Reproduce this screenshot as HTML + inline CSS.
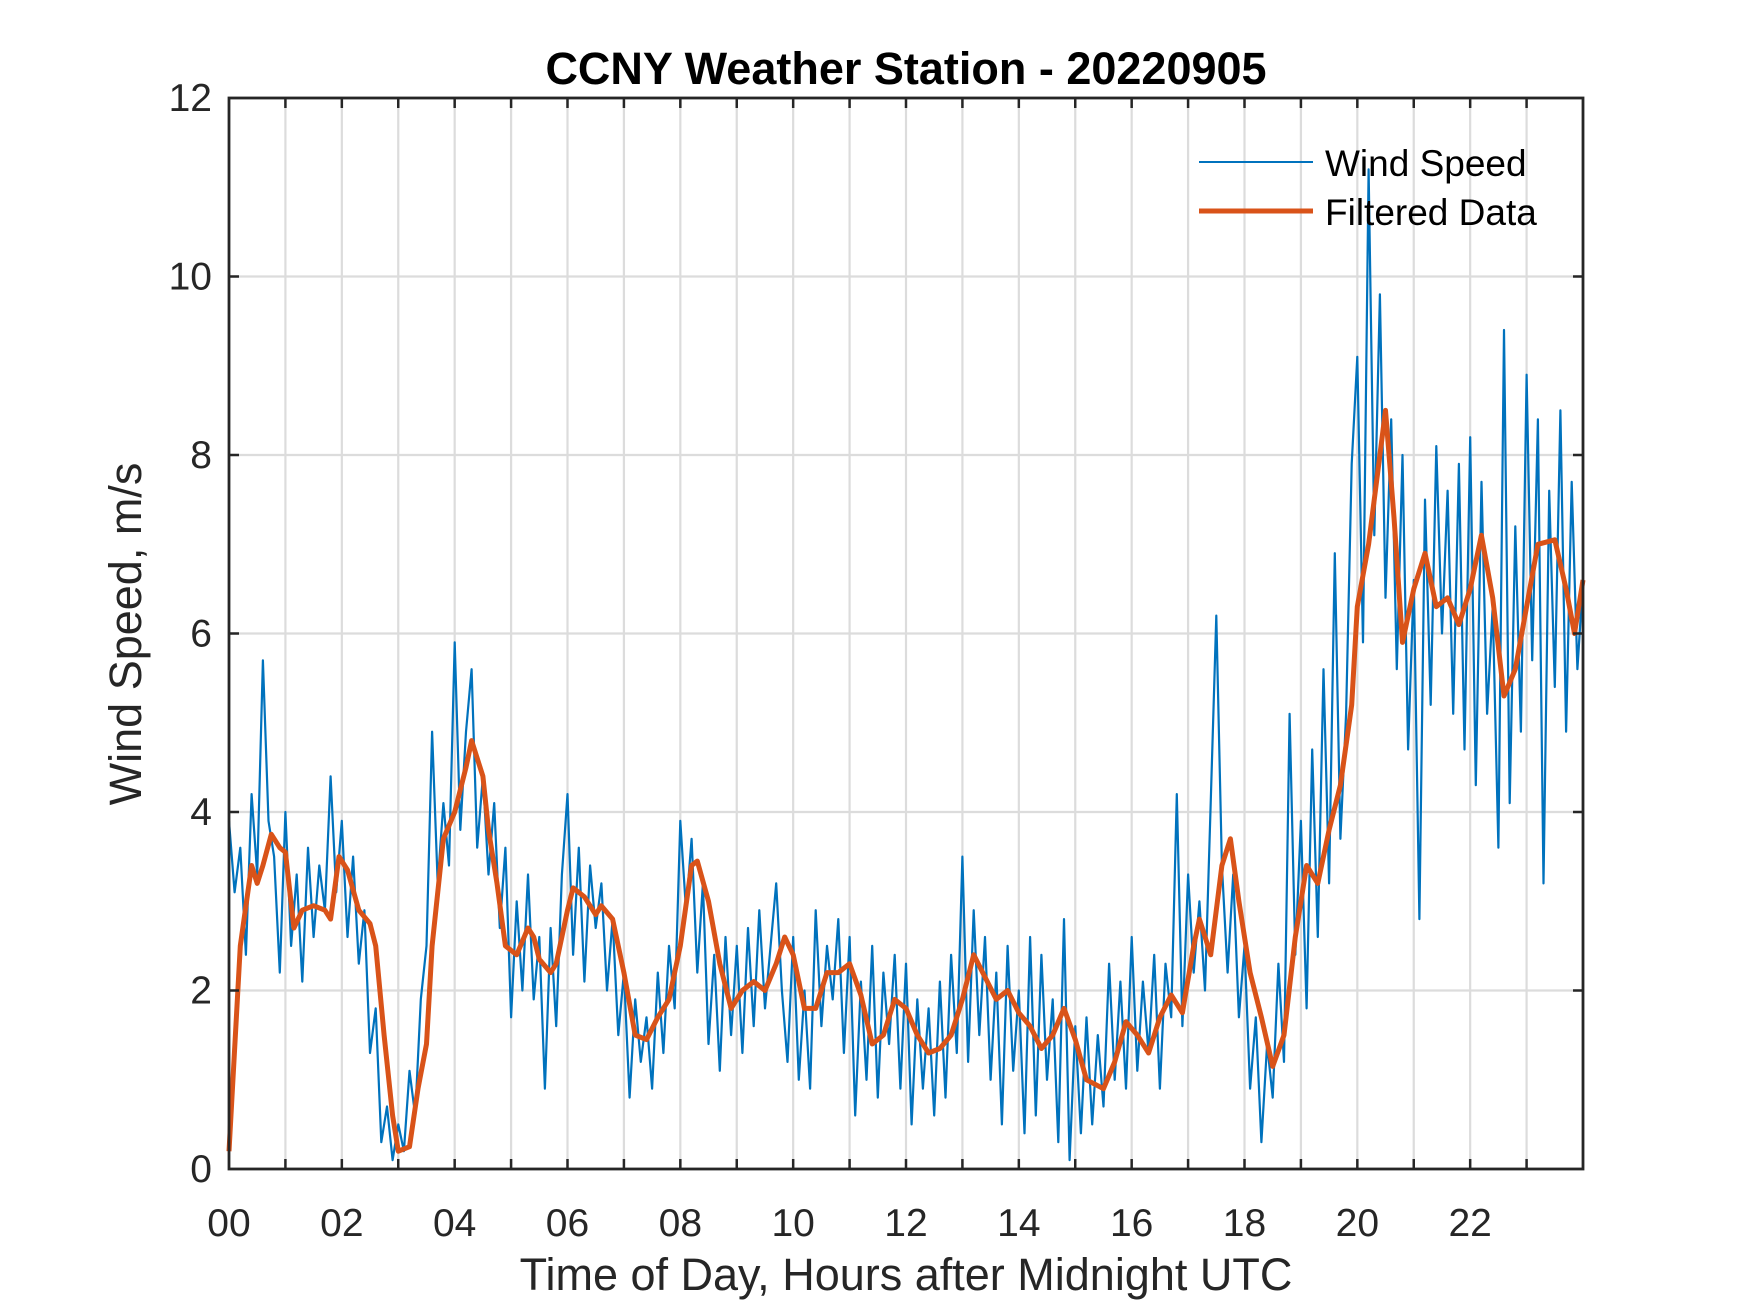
<!DOCTYPE html>
<html><head><meta charset="utf-8"><style>
html,body{margin:0;padding:0;background:#fff;}
svg{display:block;font-family:"Liberation Sans",Arial,sans-serif;}
</style></head><body>
<svg id="chart" width="1750" height="1313" viewBox="0 0 1750 1313" xmlns="http://www.w3.org/2000/svg">
<rect width="1750" height="1313" fill="#fff"/>
<g id="grid"></g>
<g id="series"></g>
<g id="axes"></g>
<text x="906" y="84" text-anchor="middle" font-size="45" font-weight="bold" fill="#000">CCNY Weather Station - 20220905</text>
<text x="906" y="1290" text-anchor="middle" font-size="45" fill="#262626">Time of Day, Hours after Midnight UTC</text>
<text transform="translate(141,634) rotate(-90)" text-anchor="middle" font-size="45" fill="#262626">Wind Speed, m/s</text>
<g id="legend">
<line x1="1199" y1="162" x2="1313" y2="162" stroke="#0072BD" stroke-width="2"/>
<text x="1325" y="176" font-size="37" fill="#000">Wind Speed</text>
<line x1="1199" y1="211" x2="1313" y2="211" stroke="#D95319" stroke-width="5"/>
<text x="1325" y="225" font-size="37" fill="#000">Filtered Data</text>
</g>
</svg>
<script>
const rawValues = [
3.9,3.1,3.6,2.4,4.2,3.3,5.7,3.9,3.5,2.2,
4.0,2.5,3.3,2.1,3.6,2.6,3.4,2.9,4.4,3.1,
3.9,2.6,3.5,2.3,2.9,1.3,1.8,0.3,0.7,0.1,
0.5,0.2,1.1,0.6,1.9,2.5,4.9,3.2,4.1,3.4,
5.9,3.8,4.9,5.6,3.6,4.4,3.3,4.1,2.7,3.6,
1.7,3.0,2.0,3.3,1.9,2.6,0.9,2.7,1.6,3.3,
4.2,2.4,3.6,2.1,3.4,2.7,3.2,2.0,2.8,1.5,
2.2,0.8,1.9,1.2,1.7,0.9,2.2,1.3,2.5,1.8,
3.9,2.9,3.7,2.2,3.2,1.4,2.4,1.1,2.6,1.5,
2.5,1.3,2.7,1.6,2.9,1.8,2.5,3.2,2.0,1.2,
2.6,1.0,2.0,0.9,2.9,1.6,2.5,1.9,2.8,1.3,
2.6,0.6,2.1,1.0,2.5,0.8,2.2,1.4,2.4,0.9,
2.3,0.5,1.9,0.9,1.8,0.6,2.1,0.8,2.4,1.3,
3.5,1.2,2.9,1.5,2.6,1.0,2.2,0.5,2.5,1.1,
2.0,0.4,2.6,0.6,2.4,1.0,1.9,0.3,2.8,0.1,
1.6,0.4,1.7,0.5,1.5,0.7,2.3,1.0,2.1,0.9,
2.6,1.1,2.1,1.3,2.4,0.9,2.3,1.7,4.2,1.6,
3.3,2.2,3.0,2.0,4.1,6.2,3.4,2.2,3.3,1.7,
2.5,0.9,1.7,0.3,1.4,0.8,2.3,1.2,5.1,2.4,
3.9,1.8,4.7,2.6,5.6,3.2,6.9,3.7,5.1,7.9,
9.1,5.9,11.2,7.1,9.8,6.4,8.4,5.6,8.0,4.7,
6.6,2.8,7.5,5.2,8.1,6.0,7.6,5.1,7.9,4.7,
8.2,4.3,7.7,5.1,6.3,3.6,9.4,4.1,7.2,4.9,
8.9,5.7,8.4,3.2,7.6,5.4,8.5,4.9,7.7,5.6,
6.6];
const filtHours = [0,0.2,0.4,0.5,0.6,0.75,0.9,1.0,1.15,1.3,1.5,1.7,1.8,1.95,2.1,2.3,2.5,2.6,2.75,2.9,3.0,3.2,3.35,3.5,3.6,3.8,4.0,4.2,4.3,4.5,4.6,4.75,4.9,5.1,5.3,5.4,5.5,5.7,5.8,6.0,6.1,6.3,6.5,6.6,6.8,7.0,7.2,7.4,7.6,7.8,8.0,8.2,8.3,8.5,8.7,8.9,9.1,9.3,9.5,9.7,9.85,10.0,10.2,10.4,10.6,10.8,11.0,11.2,11.4,11.6,11.8,12.0,12.2,12.4,12.6,12.8,13.0,13.2,13.4,13.6,13.8,14.0,14.2,14.4,14.6,14.8,15.0,15.2,15.5,15.7,15.9,16.1,16.3,16.5,16.7,16.9,17.1,17.2,17.4,17.6,17.75,17.9,18.1,18.3,18.5,18.7,18.9,19.1,19.3,19.5,19.7,19.9,20.0,20.2,20.4,20.5,20.65,20.8,21.0,21.2,21.4,21.6,21.8,22.0,22.2,22.4,22.6,22.8,23.0,23.2,23.5,23.7,23.85,24.0];
const filtValues = [0.2,2.5,3.4,3.2,3.4,3.75,3.6,3.55,2.7,2.9,2.95,2.9,2.8,3.5,3.35,2.9,2.75,2.5,1.5,0.6,0.2,0.25,0.9,1.4,2.5,3.7,4.0,4.5,4.8,4.4,3.8,3.2,2.5,2.4,2.7,2.6,2.35,2.2,2.3,2.9,3.15,3.05,2.85,2.95,2.8,2.2,1.5,1.45,1.7,1.9,2.5,3.4,3.45,3.0,2.3,1.8,2.0,2.1,2.0,2.3,2.6,2.4,1.8,1.8,2.2,2.2,2.3,1.95,1.4,1.5,1.9,1.8,1.5,1.3,1.35,1.5,1.9,2.4,2.15,1.9,2.0,1.75,1.6,1.35,1.5,1.8,1.45,1.0,0.9,1.2,1.65,1.5,1.3,1.7,1.95,1.75,2.5,2.8,2.4,3.4,3.7,3.0,2.2,1.7,1.15,1.5,2.6,3.4,3.2,3.8,4.3,5.2,6.3,7.0,8.0,8.5,7.3,5.9,6.5,6.9,6.3,6.4,6.1,6.5,7.1,6.4,5.3,5.6,6.3,7.0,7.05,6.5,6.0,6.6];
const xTicks = ["00","02","04","06","08","10","12","14","16","18","20","22"];
const yTicks = [0,2,4,6,8,10,12];

const X0=229,X1=1583,Y0=1169,Y1=98;
const xs = h => X0 + (h/24)*(X1-X0);
const ys = v => Y0 - (v/12)*(Y0-Y1);
const NS="http://www.w3.org/2000/svg";
function mk(tag, attrs, parent){const e=document.createElementNS(NS,tag);for(const k in attrs)e.setAttribute(k,attrs[k]);parent.appendChild(e);return e;}
const grid=document.getElementById('grid'), axes=document.getElementById('axes'), series=document.getElementById('series');

for(let h=1;h<24;h++){
  const l=mk('line',{x1:xs(h),x2:xs(h),y1:Y1,y2:Y0,stroke:'#dcdcdc','stroke-width':2.2},grid);
  
  
  for(const [a,b] of [[Y0,Y0-10],[Y1,Y1+10]]){
    const t=mk('line',{x1:xs(h),x2:xs(h),y1:a,y2:b,stroke:'#262626','stroke-width':2.5},axes);
    
    
  }
}
yTicks.forEach(v=>{
  if(v>0&&v<12){
    const l=mk('line',{x1:X0,x2:X1,y1:ys(v),y2:ys(v),stroke:'#dcdcdc','stroke-width':2.2},grid);
    
    
    for(const [a,b] of [[X0,X0+10],[X1,X1-10]]){
      const t=mk('line',{x1:a,x2:b,y1:ys(v),y2:ys(v),stroke:'#262626','stroke-width':2.5},axes);
      
      
    }
  }
  const tx=mk('text',{x:X0-17,y:ys(v)+13,'text-anchor':'end','font-size':39,fill:'#262626'},axes);
  tx.textContent=v;
  
  
});
xTicks.forEach((lab,i)=>{
  const tx=mk('text',{x:xs(i*2),y:1236,'text-anchor':'middle','font-size':39,fill:'#262626'},axes);
  tx.textContent=lab;
  
  
});
const box=mk('rect',{x:X0,y:Y1,width:X1-X0,height:Y0-Y1,fill:'none',stroke:'#262626','stroke-width':2.8},axes);



const rawStep=24/(rawValues.length-1);
const rawPts=rawValues.map((v,i)=>xs(i*rawStep).toFixed(1)+','+ys(v).toFixed(1)).join(' ');
const rp=mk('polyline',{points:rawPts,fill:'none',stroke:'#0072BD','stroke-width':2.2,'stroke-linejoin':'round'},series);


const fPts=filtValues.map((v,i)=>xs(filtHours[i]).toFixed(1)+','+ys(v).toFixed(1)).join(' ');
const fp=mk('polyline',{points:fPts,fill:'none',stroke:'#D95319','stroke-width':5,'stroke-linejoin':'round'},series);


</script>
</body></html>
